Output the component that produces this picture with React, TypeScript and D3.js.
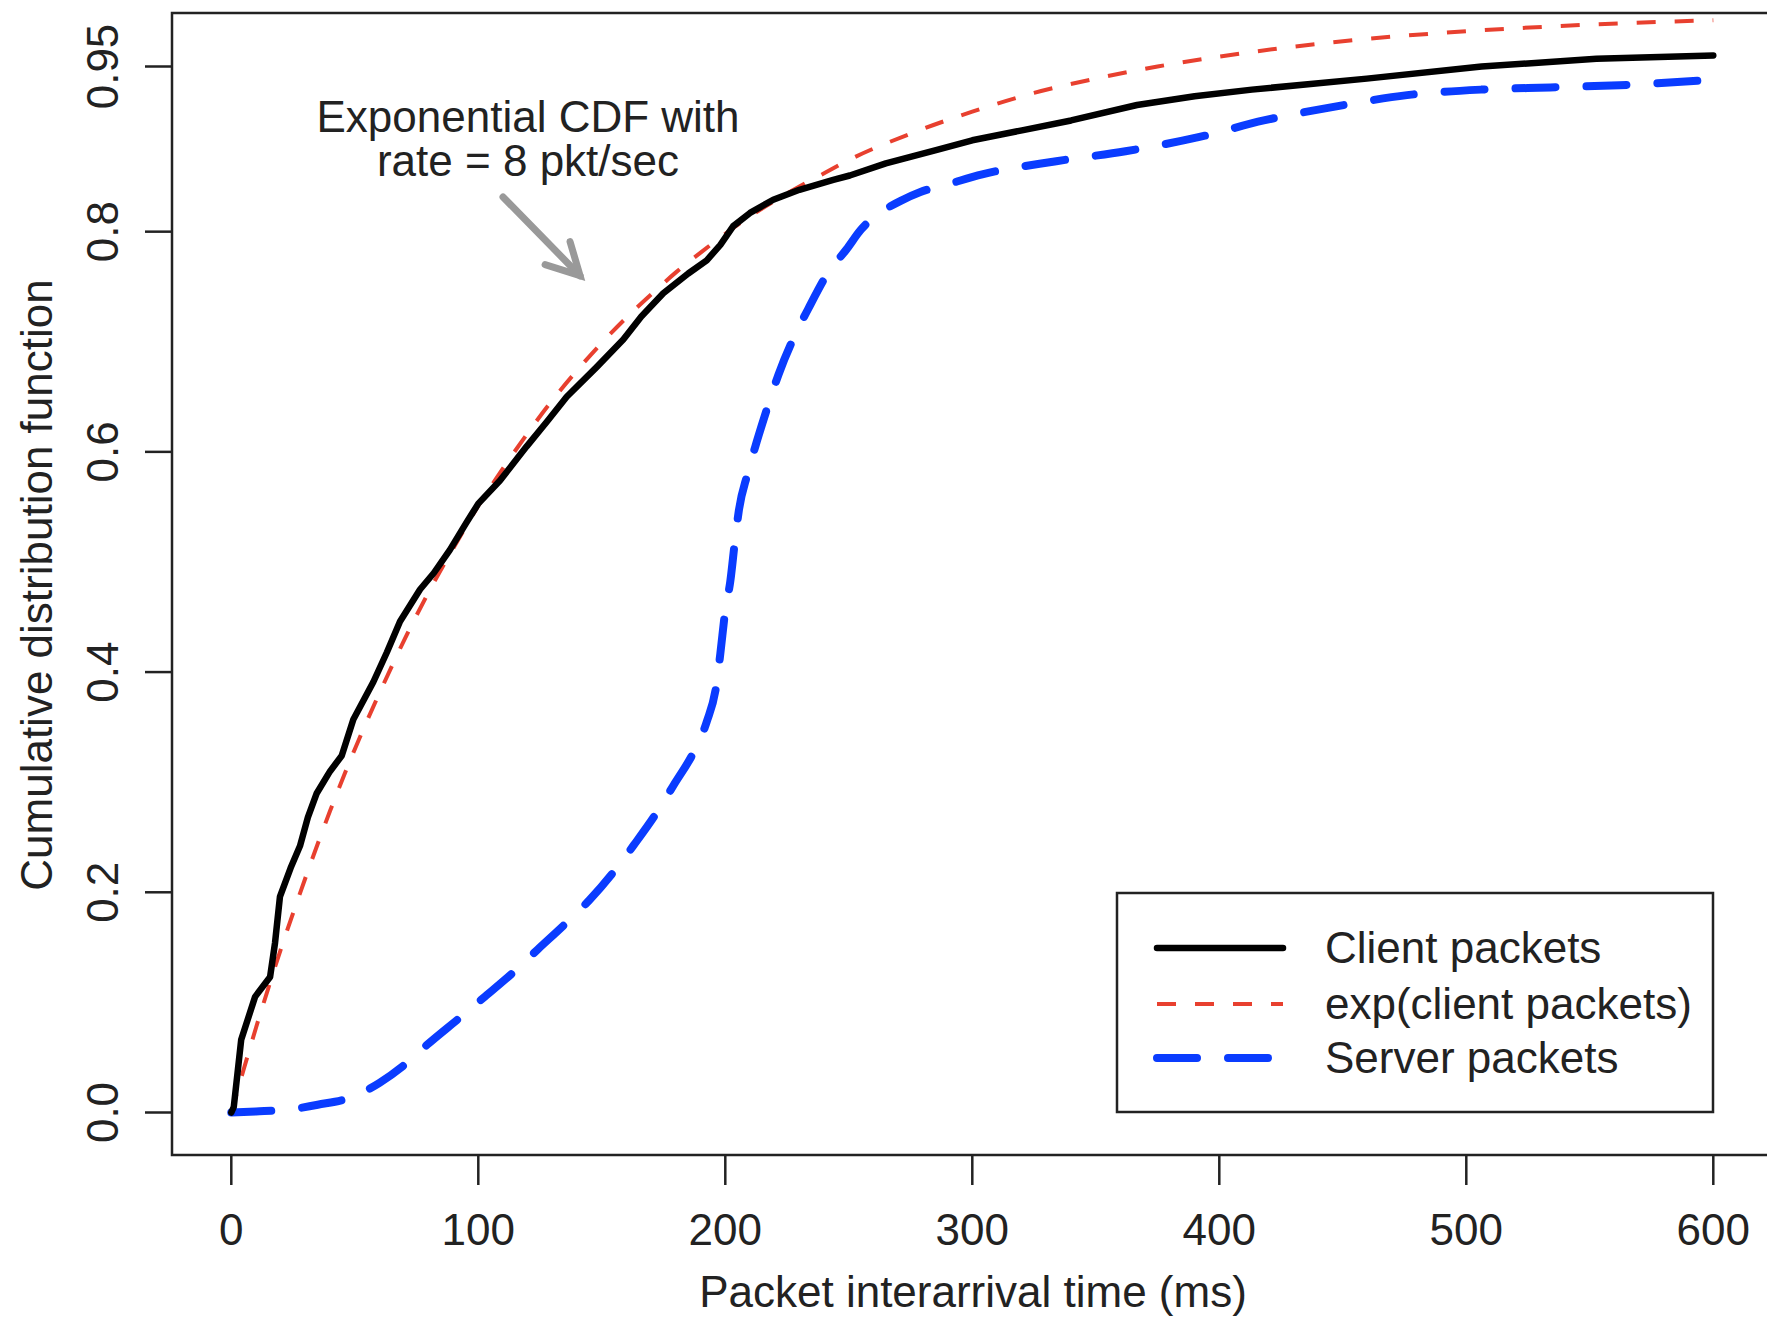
import React from "react";
import * as d3 from "d3";

// ---- data ----
const clientX = [0, 1, 4, 9.6, 15.7, 17.7, 19.7, 24, 27.8, 31, 34.6, 40, 44.7, 49.4, 57.5, 63, 68.3, 76.4, 82, 88.5, 95, 100, 108.8, 119.6, 128, 135.8, 147.9, 158.7, 166, 174.9, 185, 192.5, 198, 203.2, 210, 219.4, 230, 243.7, 250.4, 265, 285.3, 300, 320.1, 340, 366.7, 390, 413.2, 459.7, 506.2, 552.7, 600];
const clientY = [0, 0.005, 0.066, 0.105, 0.123, 0.154, 0.196, 0.222, 0.242, 0.268, 0.29, 0.31, 0.324, 0.357, 0.391, 0.418, 0.446, 0.475, 0.49, 0.511, 0.535, 0.553, 0.574, 0.605, 0.628, 0.65, 0.677, 0.702, 0.723, 0.744, 0.762, 0.774, 0.788, 0.805, 0.817, 0.829, 0.838, 0.847, 0.851, 0.862, 0.874, 0.883, 0.892, 0.901, 0.915, 0.923, 0.929, 0.939, 0.95, 0.957, 0.96];

const expX = [0, 5, 10, 15, 20, 25, 30, 40, 50, 60, 70, 80, 90, 100, 110, 120, 130, 140, 150, 160, 170, 180, 190, 200, 210, 220, 230, 240, 250, 275, 300, 325, 350, 375, 400, 450, 500, 550, 600];
const expY = [0, 0.039, 0.077, 0.113, 0.148, 0.181, 0.213, 0.274, 0.33, 0.381, 0.429, 0.473, 0.513, 0.551, 0.585, 0.617, 0.647, 0.674, 0.699, 0.722, 0.743, 0.763, 0.781, 0.798, 0.814, 0.828, 0.841, 0.853, 0.865, 0.889, 0.909, 0.926, 0.939, 0.95, 0.959, 0.973, 0.982, 0.988, 0.992];

const serverX = [0, 10, 20, 35, 50, 60, 71, 79, 93, 102, 115, 124, 136, 145, 156, 163, 173, 179, 188, 192.5, 196.5, 198, 200, 202, 204, 205.5, 209, 212.7, 217, 221.5, 228.2, 233.6, 241.7, 249.1, 255, 260, 266, 271, 279, 290, 304, 334, 362, 392, 418, 448, 476, 506, 534, 562, 600];
const serverY = [0, 0.001, 0.002, 0.007, 0.015, 0.027, 0.045, 0.061, 0.087, 0.104, 0.129, 0.148, 0.173, 0.193, 0.222, 0.243, 0.275, 0.297, 0.331, 0.355, 0.39, 0.417, 0.456, 0.482, 0.521, 0.547, 0.58, 0.609, 0.64, 0.67, 0.706, 0.73, 0.763, 0.784, 0.802, 0.813, 0.822, 0.828, 0.836, 0.843, 0.852, 0.864, 0.873, 0.886, 0.901, 0.914, 0.924, 0.929, 0.931, 0.933, 0.938];

const xTicks = [0, 100, 200, 300, 400, 500, 600];
const yTicks = [0, 0.2, 0.4, 0.6, 0.8, 0.95];
const yTickLabels = ["0.0", "0.2", "0.4", "0.6", "0.8", "0.95"];
const legendLabels = ["Client packets", "exp(client packets)", "Server packets"];
const annotationLines = ["Exponential CDF with", "rate = 8 pkt/sec"];

const W = 1767;
const H = 1321;
const FONT = "'Liberation Sans', Arial, Helvetica, sans-serif";

export default function App() {
  const x = d3.scaleLinear().domain([0, 600]).range([231.3, 1713.3]);
  const y = d3.scaleLinear().domain([0, 0.95]).range([1112.5, 66.5]);

  const box = { left: 172, top: 13, bottom: 1155, right: 1790 };

  const mk = (xs: number[], ys: number[], curve: any) =>
    d3
      .line<number>()
      .x((_, i) => x(xs[i]))
      .y((_, i) => y(ys[i]))
      .curve(curve)(xs.map((v) => v)) as string;

  const clientPath = mk(clientX, clientY, d3.curveLinear);
  const expPath = mk(expX, expY, d3.curveMonotoneX);
  const serverPath = mk(serverX, serverY, d3.curveMonotoneX);

  const series = [
    { stroke: "#000000", width: 6.5, dash: "none" },
    { stroke: "#e8402f", width: 4, dash: "19 19" },
    { stroke: "#0a3cff", width: 8, dash: "40 31" },
  ];

  // annotation arrow (data coords)
  const ax0 = x(110), ay0 = y(0.8315);
  const ax1 = x(141.2), ay1 = y(0.76);

  const legend = { left: 1117, top: 893, right: 1713, bottom: 1112 };
  const rows = [948, 1004, 1058];

  return (
    <svg
      width={W}
      height={H}
      style={{ position: "absolute", left: 0, top: 0, background: "#fff" }}
      fontFamily={FONT}
    >
      <rect x={0} y={0} width={W} height={H} fill="#fff" />

      {/* curves */}
      <path d={expPath} fill="none" stroke={series[1].stroke} strokeWidth={series[1].width} strokeDasharray={series[1].dash} />
      <path d={serverPath} fill="none" stroke={series[2].stroke} strokeWidth={series[2].width} strokeDasharray={series[2].dash} strokeLinecap="round" />
      <path d={clientPath} fill="none" stroke={series[0].stroke} strokeWidth={series[0].width} strokeLinecap="round" strokeLinejoin="round" />

      {/* box */}
      <path
        d={`M${box.right},${box.top} L${box.left},${box.top} L${box.left},${box.bottom} L${box.right},${box.bottom}`}
        fill="none"
        stroke="#222"
        strokeWidth={2.5}
      />

      {/* y axis */}
      {yTicks.map((t, i) => (
        <g key={"y" + i}>
          <line x1={box.left - 27} x2={box.left} y1={y(t)} y2={y(t)} stroke="#222" strokeWidth={2.5} />
          <text
            transform={`translate(118,${y(t)}) rotate(-90)`}
            textAnchor="middle"
            fontSize={44}
            fill="#222"
          >
            {yTickLabels[i]}
          </text>
        </g>
      ))}

      {/* x axis */}
      {xTicks.map((t) => (
        <g key={"x" + t}>
          <line x1={x(t)} x2={x(t)} y1={box.bottom} y2={box.bottom + 30} stroke="#222" strokeWidth={2.5} />
          <text x={x(t)} y={1245} textAnchor="middle" fontSize={44} fill="#222">
            {t}
          </text>
        </g>
      ))}

      <text x={973} y={1307} textAnchor="middle" fontSize={44} fill="#222">
        Packet interarrival time (ms)
      </text>
      <text transform={`translate(52,585) rotate(-90)`} textAnchor="middle" fontSize={44} fill="#222">
        Cumulative distribution function
      </text>

      {/* annotation */}
      <text x={528} y={132} textAnchor="middle" fontSize={44} fill="#222">
        {annotationLines.map((s, i) => (
          <tspan key={s} x={528} dy={i === 0 ? 0 : 44}>
            {s}
          </tspan>
        ))}
      </text>
      <g stroke="#999" strokeWidth={7} strokeLinecap="round" fill="none">
        <line x1={ax0} y1={ay0} x2={ax1} y2={ay1} />
        <polyline points={`${ax1 - 10},${ay1 - 34} ${ax1},${ay1} ${ax1 - 35},${ay1 - 11}`} strokeLinejoin="miter" />
      </g>

      {/* legend */}
      <rect
        x={legend.left}
        y={legend.top}
        width={legend.right - legend.left}
        height={legend.bottom - legend.top}
        fill="#fff"
        stroke="#222"
        strokeWidth={2.5}
      />
      {legendLabels.map((lab, i) => (
        <g key={lab}>
          <line
            x1={1157}
            x2={1283}
            y1={rows[i]}
            y2={rows[i]}
            stroke={series[i].stroke}
            strokeWidth={series[i].width}
            strokeDasharray={series[i].dash}
            strokeLinecap={i === 1 ? "butt" : "round"}
          />
          <text x={1325} y={rows[i]} dy="0.35em" fontSize={44} fill="#222">
            {lab}
          </text>
        </g>
      ))}
    </svg>
  );
}
